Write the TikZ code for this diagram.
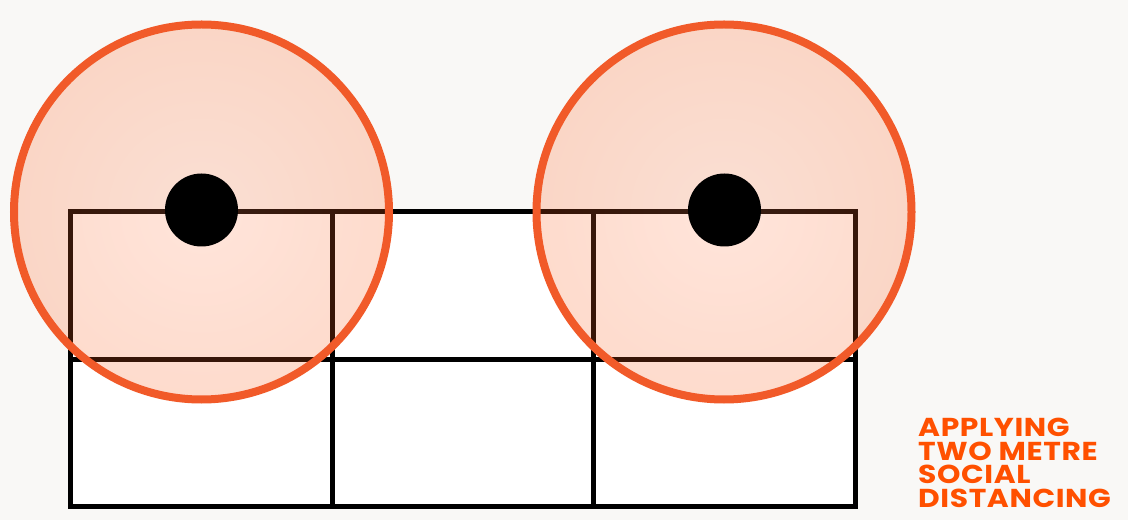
\documentclass[tikz,border=0pt]{standalone}
\usepackage{fontspec}
\newfontfamily\pop{Poppins}[LetterSpace=2.3,FakeStretch=1.15]
\definecolor{bg}{HTML}{F9F8F6}
\definecolor{ring}{HTML}{F15A29}
\definecolor{txt}{HTML}{FF5000}
\definecolor{zin}{RGB}{255,137,91}
\definecolor{zout}{RGB}{254,94,28}
\begin{document}
\begin{tikzpicture}[x=1bp,y=-1bp,
  gridline/.style={draw=black, line width=5bp, line join=miter},
  zone/.style={inner color=zin, outer color=zout, fill opacity=0.22},
  ringline/.style={draw=ring, line width=8bp},
  person/.style={fill=black},
  caption/.style={anchor=base west, inner sep=0pt, align=left, text=txt,
    font=\pop\bfseries\fontsize{26}{23.5}\selectfont}]
\useasboundingbox (0,0) rectangle (1128,520);
\fill[bg] (0,0) rectangle (1128,520);
% grid of desks
\fill[white] (70.5,212) rectangle (855,506.5);
\draw[gridline] (70.5,212) rectangle (855,506.5);
\draw[gridline] (332.5,212) -- (332.5,506.5);
\draw[gridline] (593.5,212) -- (593.5,506.5);
\draw[gridline] (70.5,360) -- (855,360);
% distancing zones
\coordinate (p1) at (201.5,212);
\coordinate (p2) at (724,212);
\shade[zone] (p1) circle[radius=187.5bp];
\shade[zone] (p2) circle[radius=187.5bp];
\draw[ringline] (p1) circle[radius=187.5bp];
\draw[ringline] (p2) circle[radius=187.5bp];
% people
\fill[person] (201.5,210) circle[radius=36.5bp];
\fill[person] (724.5,210) circle[radius=36.5bp];
% caption (base anchor = last line)
\node[caption] (cap) at (918,507) {APPLYING\\TWO METRE\\SOCIAL\\DISTANCING};
\end{tikzpicture}
\end{document}
